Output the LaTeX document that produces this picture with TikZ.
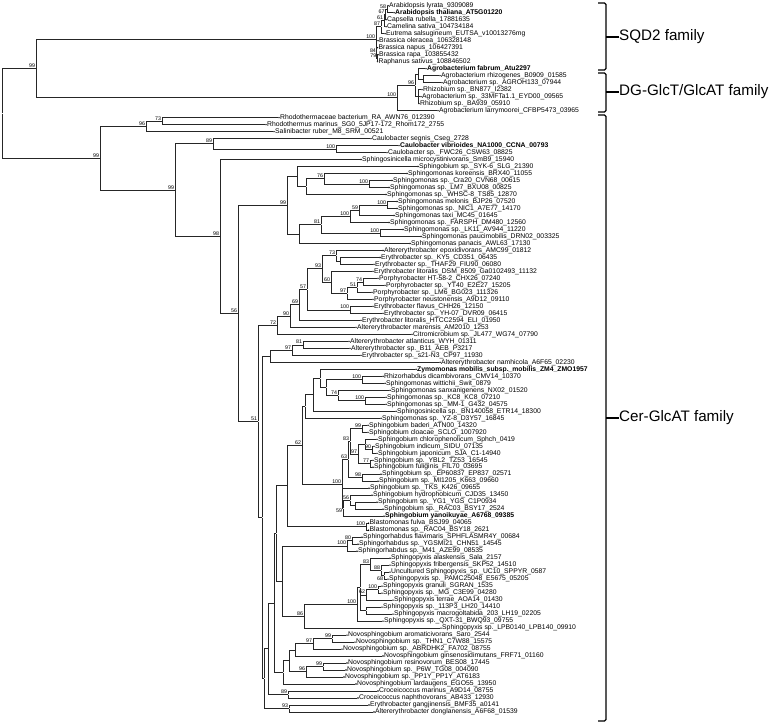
\documentclass[tikz,border=0pt]{standalone}
\usepackage{fontspec}
\setmainfont{Liberation Sans}
\usepackage{tikz}

\begin{document}
\begin{tikzpicture}[x=1pt,y=-1pt,
	br/.style={line width=0.65pt,black!85},
	tip/.style={circle,fill=black,inner sep=0pt,minimum size=1.6pt,label distance=1.4pt},
	lab/.style={font=\fontsize{6.8}{7}\selectfont,inner sep=0pt},
	bn/.style={inner sep=0pt,minimum size=0pt,label distance=0pt},
	bs/.style={font=\fontsize{5.3}{5.5}\selectfont,inner sep=0.5pt},
	brk/.style={line width=1.1pt,black,rounded corners=1.5pt},
	fam/.style={font=\fontsize{15.2}{17}\selectfont,anchor=west,inner sep=0pt}]
			\useasboundingbox (0,0) rectangle (778,725);

			\node[tip,label={[lab]right:Arabidopsis lyrata\_9309089}] (t1) at (388,5.7) {};
			\node[tip,label={[lab]right:\textbf{Arabidopsis thaliana\_AT5G01220}}] (t2) at (394,12.7) {};
			\node[tip,label={[lab]right:Capsella rubella\_17881635}] (t3) at (386,19.7) {};
			\node[tip,label={[lab]right:Camelina sativa\_104734184}] (t4) at (386,26.7) {};
			\node[tip,label={[lab]right:Eutrema salsugineum\_EUTSA\_v10013276mg}] (t5) at (385,33.7) {};
			\node[tip,label={[lab]right:Brassica oleracea\_106328148}] (t6) at (378,40.7) {};
			\node[tip,label={[lab]right:Brassica napus\_106427391}] (t7) at (377.5,47.7) {};
			\node[tip,label={[lab]right:Brassica rapa\_103855432}] (t8) at (378,54.7) {};
			\node[tip,label={[lab]right:Raphanus sativus\_108846502}] (t9) at (377.5,61.6) {};
			\node[tip,label={[lab]right:\textbf{Agrobacterium fabrum\_Atu2297}}] (t10) at (426,68.6) {};
			\node[tip,label={[lab]right:Agrobacterium rhizogenes\_B0909\_01585}] (t11) at (440,75.6) {};
			\node[tip,label={[lab]right:Agrobacterium sp.\_AGROH133\_07944}] (t12) at (442,82.6) {};
			\node[tip,label={[lab]right:Rhizobium sp.\_BN877\_I2382}] (t13) at (422,89.6) {};
			\node[tip,label={[lab]right:Agrobacterium sp.\_33MFTa1.1\_EYD00\_09565}] (t14) at (421,96.6) {};
			\node[tip,label={[lab]right:Rhizobium sp.\_BA939\_05910}] (t15) at (419,103.6) {};
			\node[tip,label={[lab]right:Agrobacterium larrymoorei\_CFBP5473\_03965}] (t16) at (438,110.6) {};
			\node[tip,label={[lab]right:Rhodothermaceae bacterium\_RA\_AWN76\_012390}] (t17) at (279,117.6) {};
			\node[tip,label={[lab]right:Rhodothermus marinus\_SG0\_5JP17-172\_Rhom172\_2755}] (t18) at (266,124.6) {};
			\node[tip,label={[lab]right:Salinibacter ruber\_M8\_SRM\_00521}] (t19) at (274,131.6) {};
			\node[tip,label={[lab]right:Caulobacter segnis\_Cseg\_2728}] (t20) at (371,138.6) {};
			\node[tip,label={[lab]right:\textbf{Caulobacter vibrioides\_NA1000\_CCNA\_00793}}] (t21) at (399,145.6) {};
			\node[tip,label={[lab]right:Caulobacter sp.\_FWC26\_CSW63\_08825}] (t22) at (387,152.6) {};
			\node[tip,label={[lab]right:Sphingosinicella microcystinivorans\_SmB9\_15940}] (t23) at (361,159.5) {};
			\node[tip,label={[lab]right:Sphingobium sp.\_SYK-6\_SLG\_21390}] (t24) at (418,166.5) {};
			\node[tip,label={[lab]right:Sphingomonas koreensis\_BRX40\_11055}] (t25) at (407,173.5) {};
			\node[tip,label={[lab]right:Sphingomonas sp.\_Cra20\_CVN68\_00615}] (t26) at (392,180.5) {};
			\node[tip,label={[lab]right:Sphingomonas sp.\_LM7\_BXU08\_00825}] (t27) at (389,187.5) {};
			\node[tip,label={[lab]right:Sphingomonas sp.\_WHSC-8\_TS85\_12870}] (t28) at (386,194.5) {};
			\node[tip,label={[lab]right:Sphingomonas melonis\_BJP26\_07520}] (t29) at (397,201.5) {};
			\node[tip,label={[lab]right:Sphingomonas sp.\_NIC1\_A7E77\_14170}] (t30) at (397,208.5) {};
			\node[tip,label={[lab]right:Sphingomonas taxi\_MC45\_01645}] (t31) at (394,215.5) {};
			\node[tip,label={[lab]right:Sphingomonas sp.\_FARSPH\_DM480\_12560}] (t32) at (389,222.5) {};
			\node[tip,label={[lab]right:Sphingomonas sp.\_LK11\_AV944\_11220}] (t33) at (403,229.5) {};
			\node[tip,label={[lab]right:Sphingomonas paucimobilis\_DRN02\_003325}] (t34) at (421,236.5) {};
			\node[tip,label={[lab]right:Sphingomonas panacis\_AWL63\_17130}] (t35) at (410,243.5) {};
			\node[tip,label={[lab]right:Altererythrobacter epoxidivorans\_AMC99\_01812}] (t36) at (383,250.5) {};
			\node[tip,label={[lab]right:Erythrobacter sp.\_KY5\_CD351\_06435}] (t37) at (380,257.5) {};
			\node[tip,label={[lab]right:Erythrobacter sp.\_THAF29\_FIU90\_06080}] (t38) at (374,264.4) {};
			\node[tip,label={[lab]right:Erythrobacter litoralis\_DSM\_8509\_Ga0102493\_11132}] (t39) at (373,271.4) {};
			\node[tip,label={[lab]right:Porphyrobacter HT-58-2\_CHX26\_07240}] (t40) at (378,278.4) {};
			\node[tip,label={[lab]right:Porphyrobacter sp.\_YT40\_E2E27\_15205}] (t41) at (385,285.4) {};
			\node[tip,label={[lab]right:Porphyrobacter sp.\_LM6\_BG023\_111326}] (t42) at (372,292.4) {};
			\node[tip,label={[lab]right:Porphyrobacter neustonensis\_A9D12\_09110}] (t43) at (373,299.4) {};
			\node[tip,label={[lab]right:Erythrobacter flavus\_CHH26\_12150}] (t44) at (373,306.4) {};
			\node[tip,label={[lab]right:Erythrobacter sp.\_YH-07\_DVR09\_06415}] (t45) at (383,313.4) {};
			\node[tip,label={[lab]right:Erythrobacter litoralis\_HTCC2594\_ELI\_01950}] (t46) at (361,320.4) {};
			\node[tip,label={[lab]right:Altererythrobacter marensis\_AM2010\_1253}] (t47) at (356,327.4) {};
			\node[tip,label={[lab]right:Citromicrobium sp.\_JL477\_WG74\_07790}] (t48) at (412,334.4) {};
			\node[tip,label={[lab]right:Altererythrobacter atlanticus\_WYH\_01311}] (t49) at (349,341.4) {};
			\node[tip,label={[lab]right:Altererythrobacter sp.\_B11\_AEB\_P3217}] (t50) at (350,348.4) {};
			\node[tip,label={[lab]right:Erythrobacter sp.\_s21-N3\_CP97\_11930}] (t51) at (361,355.4) {};
			\node[tip,label={[lab]right:Altererythrobacter namhicola\_A6F65\_02230}] (t52) at (440,362.3) {};
			\node[tip,label={[lab]right:\textbf{Zymomonas mobilis\_subsp.\_mobilis\_ZM4\_ZMO1957}}] (t53) at (416,369.3) {};
			\node[tip,label={[lab]right:Rhizorhabdus dicambivorans\_CMV14\_10370}] (t54) at (383,376.3) {};
			\node[tip,label={[lab]right:Sphingomonas wittichii\_Swit\_0879}] (t55) at (385,383.3) {};
			\node[tip,label={[lab]right:Sphingomonas sanxanigenens\_NX02\_01520}] (t56) at (390,390.3) {};
			\node[tip,label={[lab]right:Sphingomonas sp.\_KC8\_KC8\_07210}] (t57) at (386,397.3) {};
			\node[tip,label={[lab]right:Sphingomonas sp.\_MM-1\_G432\_04575}] (t58) at (386,404.3) {};
			\node[tip,label={[lab]right:Sphingosinicella sp.\_BN140058\_ETR14\_18300}] (t59) at (396,411.3) {};
			\node[tip,label={[lab]right:Sphingomonas sp.\_YZ-8\_D3Y57\_16845}] (t60) at (381,418.3) {};
			\node[tip,label={[lab]right:Sphingobium baderi\_ATN00\_14320}] (t61) at (368,425.3) {};
			\node[tip,label={[lab]right:Sphingobium cloacae\_SCLO\_1007920}] (t62) at (368,432.3) {};
			\node[tip,label={[lab]right:Sphingobium chlorophenolicum\_Sphch\_0419}] (t63) at (377,439.3) {};
			\node[tip,label={[lab]right:Sphingobium indicum\_SIDU\_07135}] (t64) at (374,446.3) {};
			\node[tip,label={[lab]right:Sphingobium japonicum\_SJA\_C1-14940}] (t65) at (377,453.3) {};
			\node[tip,label={[lab]right:Sphingobium sp.\_YBL2\_TZ53\_16545}] (t66) at (373,460.3) {};
			\node[tip,label={[lab]right:Sphingobium fuliginis\_FIL70\_03695}] (t67) at (373,467.2) {};
			\node[tip,label={[lab]right:Sphingobium sp.\_EP60837\_EP837\_02571}] (t68) at (381,474.2) {};
			\node[tip,label={[lab]right:Sphingobium sp.\_MI1205\_K663\_09660}] (t69) at (378,481.2) {};
			\node[tip,label={[lab]right:Sphingobium sp.\_TKS\_K426\_09655}] (t70) at (369,488.2) {};
			\node[tip,label={[lab]right:Sphingobium hydrophobicum\_CJD35\_13450}] (t71) at (372,495.2) {};
			\node[tip,label={[lab]right:Sphingobium sp.\_YG1\_YGS\_C1P0934}] (t72) at (377,502.2) {};
			\node[tip,label={[lab]right:Sphingobium sp.\_RAC03\_BSY17\_2524}] (t73) at (383,509.2) {};
			\node[tip,label={[lab]right:\textbf{Sphingobium yanoikuyae\_A6768\_09385}}] (t74) at (384,516.2) {};
			\node[tip,label={[lab]right:Blastomonas fulva\_BSJ99\_04065}] (t75) at (368.5,523.2) {};
			\node[tip,label={[lab]right:Blastomonas sp.\_RAC04\_BSY18\_2621}] (t76) at (368.5,530.2) {};
			\node[tip,label={[lab]right:Sphingorhabdus flavimaris\_SPHFLASMR4Y\_00684}] (t77) at (362,537.2) {};
			\node[tip,label={[lab]right:Sphingorhabdus sp.\_YGSMI21\_CHN51\_14545}] (t78) at (358,544.2) {};
			\node[tip,label={[lab]right:Sphingorhabdus sp.\_M41\_AZE99\_08535}] (t79) at (357,551.2) {};
			\node[tip,label={[lab]right:Sphingopyxis alaskensis\_Sala\_2157}] (t80) at (390,558.2) {};
			\node[tip,label={[lab]right:Sphingopyxis fribergensis\_SKP52\_14510}] (t81) at (390,565.1) {};
			\node[tip,label={[lab]right:Uncultured Sphingopyxis\_sp.\_UC10\_SPPYR\_0587}] (t82) at (390,572.1) {};
			\node[tip,label={[lab]right:Sphingopyxis sp.\_PAMC25048\_E5675\_05205}] (t83) at (388,579.1) {};
			\node[tip,label={[lab]right:Sphingopyxis granuli\_SGRAN\_1535}] (t84) at (382,586.1) {};
			\node[tip,label={[lab]right:Sphingopyxis sp.\_MG\_C3E99\_04280}] (t85) at (382,593.1) {};
			\node[tip,label={[lab]right:Sphingopyxis terrae\_AOA14\_01430}] (t86) at (393,600.1) {};
			\node[tip,label={[lab]right:Sphingopyxis sp.\_113P3\_LH20\_14410}] (t87) at (382,607.1) {};
			\node[tip,label={[lab]right:Sphingopyxis macrogoltabida\_203\_LH19\_02205}] (t88) at (393,614.1) {};
			\node[tip,label={[lab]right:Sphingopyxis sp.\_QXT-31\_BWQ93\_09755}] (t89) at (383,621.1) {};
			\node[tip,label={[lab]right:Sphingopyxis sp.\_LPB0140\_LPB140\_09910}] (t90) at (441,628.1) {};
			\node[tip,label={[lab]right:Novosphingobium aromaticivorans\_Saro\_2544}] (t91) at (347,635.1) {};
			\node[tip,label={[lab]right:Novosphingobium sp.\_THN1\_C7W88\_15575}] (t92) at (355,642.1) {};
			\node[tip,label={[lab]right:Novosphingobium sp.\_ABRDHK2\_FA702\_08755}] (t93) at (342,649.1) {};
			\node[tip,label={[lab]right:Novosphingobium ginsenosidimutans\_FRF71\_01160}] (t94) at (383,656) {};
			\node[tip,label={[lab]right:Novosphingobium resinovorum\_BES08\_17445}] (t95) at (347,663) {};
			\node[tip,label={[lab]right:Novosphingobium sp.\_P6W\_TG08\_004090}] (t96) at (346,670) {};
			\node[tip,label={[lab]right:Novosphingobium sp.\_PP1Y\_PP1Y\_AT6183}] (t97) at (344,677) {};
			\node[tip,label={[lab]right:Novosphingobium lardaugens\_EGO55\_13950}] (t98) at (356,684) {};
			\node[tip,label={[lab]right:Croceicoccus marinus\_A9D14\_08755}] (t99) at (378,691) {};
			\node[tip,label={[lab]right:Croceicoccus naphthovorans\_AB433\_12930}] (t100) at (358,698) {};
			\node[tip,label={[lab]right:Erythrobacter gangjinensis\_BMF35\_a0141}] (t101) at (369,705) {};
			\node[tip,label={[lab]right:Altererythrobacter donglanensis\_A6F68\_01539}] (t102) at (374,712) {};

			\node[bn] (r) at (2,113.4) {};
			\node[bn,label={[bs]above left:99}] (a99) at (36,68.8) {};
			\node[bn,label={[bs]above left:100}] (q100) at (376,39.8) {};
			\node[bn,label={[bs]above left:87}] (n87) at (381,26.7) {};
			\node[bn,label={[bs]above left:61}] (n61) at (384,20.1) {};
			\node[bn,label={[bs]above left:67}] (n67) at (385.5,14.2) {};
			\node[bn,label={[bs]above left:58}] (n58) at (387,9.2) {};
			\node[bn,label={[bs]above left:84}] (n84) at (376.8,53) {};
			\node[bn,label={[bs]above left:79}] (n79) at (377.2,58.2) {};
			\node[bn,label={[bs]above left:100}] (d100) at (397,97.8) {};
			\node[bn,label={[bs]above left:96}] (n96) at (415,85.3) {};
			\node[bn] (nA) at (418,74) {};
			\node[bn] (nA2) at (423,79.1) {};
			\node[bn] (nR) at (418,96.6) {};
			\node[bn,label={[bs]above left:99}] (b99) at (100,158) {};
			\node[bn,label={[bs]above left:96}] (n96r) at (146,126.1) {};
			\node[bn,label={[bs]above left:73}] (n73r) at (162,121.1) {};
			\node[bn,label={[bs]above left:99}] (c99) at (175,190) {};
			\node[bn,label={[bs]above left:89}] (n89c) at (213,143.8) {};
			\node[bn,label={[bs]above left:100}] (n100c) at (336,149.1) {};
			\node[bn,label={[bs]above left:98}] (n98) at (220,236.2) {};
			\node[bn,label={[bs]above left:56}] (n56) at (238,313.2) {};
			\node[bn,label={[bs]above left:99}] (s99) at (287,205) {};
			\node[bn] (s1) at (297,176.2) {};
			\node[bn] (s3) at (306,186.4) {};
			\node[bn,label={[bs]above left:76}] (n76) at (324,178.7) {};
			\node[bn,label={[bs]above left:100}] (n100k) at (369,184) {};
			\node[bn] (s2) at (299,233.9) {};
			\node[bn,label={[bs]above left:81}] (n81) at (321,224.5) {};
			\node[bn,label={[bs]above left:100}] (nU) at (350,216.2) {};
			\node[bn,label={[bs]above left:59}] (n59) at (359,210.2) {};
			\node[bn,label={[bs]above left:100}] (n100m) at (387,205) {};
			\node[bn,label={[bs]above left:100}] (nV) at (380,233) {};
			\node[bn,label={[bs]above left:51}] (n51) at (258,421.3) {};
			\node[bn,label={[bs]above left:72}] (n72) at (277,325.2) {};
			\node[bn,label={[bs]above left:90}] (n90) at (290,316) {};
			\node[bn,label={[bs]above left:69}] (n69) at (299,304.8) {};
			\node[bn,label={[bs]above left:57}] (n57) at (307,289.3) {};
			\node[bn,label={[bs]above left:100}] (n100f) at (350,309.9) {};
			\node[bn,label={[bs]above left:93}] (n93) at (322,268.7) {};
			\node[bn,label={[bs]above left:73}] (n73) at (336,255.5) {};
			\node[bn] (nK5) at (340,261) {};
			\node[bn,label={[bs]above left:60}] (n60) at (331,282.2) {};
			\node[bn,label={[bs]above left:97}] (n97p) at (347,293.3) {};
			\node[bn,label={[bs]above left:51}] (n51p) at (357,287.3) {};
			\node[bn,label={[bs]above left:74}] (n74p) at (363,281.9) {};
			\node[bn] (nK) at (262,517.4) {};
			\node[bn] (nNam) at (270,356.1) {};
			\node[bn,label={[bs]above left:97}] (n97a) at (292,350) {};
			\node[bn,label={[bs]above left:81}] (n81a) at (303,344.9) {};
			\node[bn] (nL) at (264,678.6) {};
			\node[bn] (nM) at (268,648.7) {};
			\node[bn,label={[bs]above left:93}] (n93b) at (289,708.5) {};
			\node[bn,label={[bs]above left:89}] (n89b) at (288,694.5) {};
			\node[bn] (nN) at (274,602.9) {};
			\node[bn] (nNovo) at (283,672.4) {};
			\node[bn] (nV1) at (289,660.8) {};
			\node[bn] (nV2) at (295,649.9) {};
			\node[bn,label={[bs]above left:97}] (n97n) at (313,643.8) {};
			\node[bn,label={[bs]above left:99}] (n99n) at (332,638.6) {};
			\node[bn,label={[bs]above left:96}] (n96n) at (306,671.8) {};
			\node[bn,label={[bs]above left:99}] (n99r) at (323,666.5) {};
			\node[bn] (nO) at (276,533.4) {};
			\node[bn] (nP) at (287,485.8) {};
			\node[bn,label={[bs]above left:100}] (n100b) at (366,526.7) {};
			\node[bn,label={[bs]above left:62}] (n62s) at (302,445) {};
			\node[bn] (nZ4) at (305,406.4) {};
			\node[bn] (nZ3) at (313,394.8) {};
			\node[bn] (nZ2) at (320,378.4) {};
			\node[bn] (nZ1) at (326,387.5) {};
			\node[bn,label={[bs]above left:100}] (n100z) at (362,379.8) {};
			\node[bn,label={[bs]above left:74}] (n74z) at (338,395.3) {};
			\node[bn,label={[bs]above left:100}] (n100kc) at (365,400.8) {};
			\node[bn,label={[bs]above left:99}] (n99b) at (362,428.8) {};
			\node[bn] (nC) at (365,444.3) {};
			\node[bn,label={[bs]above left:90}] (n90s) at (372,449.8) {};
			\node[bn,label={[bs]above left:77}] (n77) at (370,463.8) {};
			\node[bn,label={[bs]above left:97}] (n97s) at (358,454) {};
			\node[bn,label={[bs]above left:83}] (n83s) at (350,441.4) {};
			\node[bn,label={[bs]above left:98}] (n98s) at (362,477.7) {};
			\node[bn,label={[bs]above left:63}] (n63s) at (348,459.5) {};
			\node[bn,label={[bs]above left:56}] (n56s) at (350,500.5) {};
			\node[bn] (nYG) at (355,505.7) {};
			\node[bn,label={[bs]below left:59}] (n59s) at (343,508.3) {};
			\node[bn,label={[bs]above left:100}] (n100s) at (342,484) {};
			\node[bn] (nQ) at (282,580.9) {};
			\node[bn,label={[bs]above left:100}] (n100r) at (347,545.9) {};
			\node[bn,label={[bs]above left:80}] (n80r) at (352,540.7) {};
			\node[bn,label={[bs]above left:86}] (n86) at (304,616.1) {};
			\node[bn,label={[bs]above left:100}] (n100x) at (357,604.2) {};
			\node[bn] (nS2) at (360,587.3) {};
			\node[bn,label={[bs]above left:83}] (n83x) at (370,564.2) {};
			\node[bn,label={[bs]above left:88}] (n88) at (381,570.3) {};
			\node[bn,label={[bs]below left:68}] (n68) at (384,575.6) {};
			\node[bn,label={[bs]above left:100}] (n100g) at (378,589.6) {};
			\node[bn,label={[bs]above left:62}] (n62x) at (366,594.9) {};
			\node[bn] (n113) at (366,610.6) {};

			\draw[br] (r) |- (a99) (r) |- (b99);
			\draw[br] (a99) |- (q100) (a99) |- (d100);
			\draw[br] (q100) |- (n87) (q100) |- (t6) (q100) |- (n84);
			\draw[br] (n87) |- (n61) (n87) |- (t5);
			\draw[br] (n61) |- (n67) (n61) |- (t4);
			\draw[br] (n67) |- (n58) (n67) |- (t3);
			\draw[br] (n58) |- (t1) (n58) |- (t2);
			\draw[br] (n84) |- (t7) (n84) |- (n79);
			\draw[br] (n79) |- (t8) (n79) |- (t9);
			\draw[br] (d100) |- (n96) (d100) |- (t16);
			\draw[br] (n96) |- (nA) (n96) |- (nR);
			\draw[br] (nA) |- (t10) (nA) |- (nA2);
			\draw[br] (nA2) |- (t11) (nA2) |- (t12);
			\draw[br] (nR) |- (t13) (nR) |- (t14) (nR) |- (t15);
			\draw[br] (b99) |- (n96r) (b99) |- (c99);
			\draw[br] (n96r) |- (n73r) (n96r) |- (t19);
			\draw[br] (n73r) |- (t17) (n73r) |- (t18);
			\draw[br] (c99) |- (n89c) (c99) |- (n98);
			\draw[br] (n89c) |- (t20) (n89c) |- (n100c);
			\draw[br] (n100c) |- (t21) (n100c) |- (t22);
			\draw[br] (n98) |- (t23) (n98) |- (n56);
			\draw[br] (n56) |- (s99) (n56) |- (n51);
			\draw[br] (s99) |- (s1) (s99) |- (s2);
			\draw[br] (s1) |- (t24) (s1) |- (s3);
			\draw[br] (s3) |- (n76) (s3) |- (t28);
			\draw[br] (n76) |- (t25) (n76) |- (n100k);
			\draw[br] (n100k) |- (t26) (n100k) |- (t27);
			\draw[br] (s2) |- (n81) (s2) |- (t35);
			\draw[br] (n81) |- (nU) (n81) |- (nV);
			\draw[br] (nU) |- (n59) (nU) |- (t32);
			\draw[br] (n59) |- (n100m) (n59) |- (t31);
			\draw[br] (n100m) |- (t29) (n100m) |- (t30);
			\draw[br] (nV) |- (t33) (nV) |- (t34);
			\draw[br] (n51) |- (n72) (n51) |- (nK);
			\draw[br] (n72) |- (n90) (n72) |- (t48);
			\draw[br] (n90) |- (n69) (n90) |- (t47);
			\draw[br] (n69) |- (n57) (n69) |- (t46);
			\draw[br] (n57) |- (n93) (n57) |- (n100f);
			\draw[br] (n100f) |- (t44) (n100f) |- (t45);
			\draw[br] (n93) |- (n73) (n93) |- (n60);
			\draw[br] (n73) |- (t36) (n73) |- (nK5);
			\draw[br] (nK5) |- (t37) (nK5) |- (t38);
			\draw[br] (n60) |- (t39) (n60) |- (n97p);
			\draw[br] (n97p) |- (n51p) (n97p) |- (t43);
			\draw[br] (n51p) |- (n74p) (n51p) |- (t42);
			\draw[br] (n74p) |- (t40) (n74p) |- (t41);
			\draw[br] (nK) |- (nNam) (nK) |- (nL);
			\draw[br] (nNam) |- (n97a) (nNam) |- (t52);
			\draw[br] (n97a) |- (n81a) (n97a) |- (t51);
			\draw[br] (n81a) |- (t49) (n81a) |- (t50);
			\draw[br] (nL) |- (nM) (nL) |- (n93b);
			\draw[br] (n93b) |- (t101) (n93b) |- (t102);
			\draw[br] (nM) |- (nN) (nM) |- (n89b);
			\draw[br] (n89b) |- (t99) (n89b) |- (t100);
			\draw[br] (nN) |- (nO) (nN) |- (nNovo);
			\draw[br] (nNovo) |- (nV1) (nNovo) |- (t98);
			\draw[br] (nV1) |- (nV2) (nV1) |- (n96n);
			\draw[br] (nV2) |- (n97n) (nV2) |- (t94);
			\draw[br] (n97n) |- (n99n) (n97n) |- (t93);
			\draw[br] (n99n) |- (t91) (n99n) |- (t92);
			\draw[br] (n96n) |- (n99r) (n96n) |- (t97);
			\draw[br] (n99r) |- (t95) (n99r) |- (t96);
			\draw[br] (nO) |- (nP) (nO) |- (nQ);
			\draw[br] (nP) |- (n62s) (nP) |- (n100b);
			\draw[br] (n100b) |- (t75) (n100b) |- (t76);
			\draw[br] (n62s) |- (nZ4) (n62s) |- (n100s);
			\draw[br] (nZ4) |- (nZ3) (nZ4) |- (t60);
			\draw[br] (nZ3) |- (nZ2) (nZ3) |- (t59);
			\draw[br] (nZ2) |- (t53) (nZ2) |- (nZ1);
			\draw[br] (nZ1) |- (n100z) (nZ1) |- (n74z);
			\draw[br] (n100z) |- (t54) (n100z) |- (t55);
			\draw[br] (n74z) |- (t56) (n74z) |- (n100kc);
			\draw[br] (n100kc) |- (t57) (n100kc) |- (t58);
			\draw[br] (n100s) |- (n63s) (n100s) |- (t70) (n100s) |- (n59s);
			\draw[br] (n63s) |- (n83s) (n63s) |- (n98s);
			\draw[br] (n83s) |- (n99b) (n83s) |- (n97s);
			\draw[br] (n99b) |- (t61) (n99b) |- (t62);
			\draw[br] (n97s) |- (nC) (n97s) |- (n77);
			\draw[br] (nC) |- (t63) (nC) |- (n90s);
			\draw[br] (n90s) |- (t64) (n90s) |- (t65);
			\draw[br] (n77) |- (t66) (n77) |- (t67);
			\draw[br] (n98s) |- (t68) (n98s) |- (t69);
			\draw[br] (n59s) |- (n56s) (n59s) |- (t74);
			\draw[br] (n56s) |- (t71) (n56s) |- (nYG);
			\draw[br] (nYG) |- (t72) (nYG) |- (t73);
			\draw[br] (nQ) |- (n100r) (nQ) |- (n86);
			\draw[br] (n100r) |- (n80r) (n100r) |- (t79);
			\draw[br] (n80r) |- (t77) (n80r) |- (t78);
			\draw[br] (n86) |- (n100x) (n86) |- (t90);
			\draw[br] (n100x) |- (nS2) (n100x) |- (t89);
			\draw[br] (nS2) |- (n83x) (nS2) |- (n62x) (nS2) |- (n113);
			\draw[br] (n83x) |- (t80) (n83x) |- (n88);
			\draw[br] (n88) |- (t81) (n88) |- (n68);
			\draw[br] (n68) |- (t82) (n68) |- (t83);
			\draw[br] (n62x) |- (n100g) (n62x) |- (t86);
			\draw[br] (n100g) |- (t84) (n100g) |- (t85);
			\draw[br] (n113) |- (t87) (n113) |- (t88);

			\node[fam] (sqd) at (619,37) {SQD2 family};
			\node[fam] (dgt) at (619,92) {DG-GlcT/GlcAT family};
			\node[fam] (cer) at (619,418) {Cer-GlcAT family};
			\draw[brk] (598,3) -- (606,3) -- (606,70) -- (598,70);
			\draw[brk] (598,73) -- (606,73) -- (606,112) -- (598,112);
			\draw[brk] (598,115) -- (606,115) -- (606,721) -- (598,721);
			\draw[brk] (606,37) -- (sqd.west);
			\draw[brk] (606,92) -- (dgt.west);
			\draw[brk] (606,418) -- (cer.west);
		\end{tikzpicture}
\end{document}
